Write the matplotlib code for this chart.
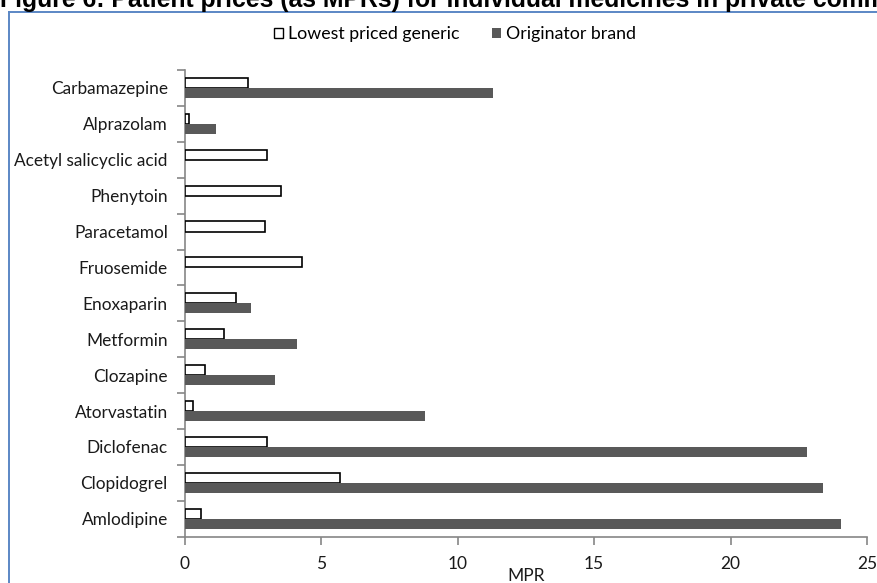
import matplotlib
matplotlib.use("Agg")
import matplotlib.pyplot as plt
from matplotlib.patches import Patch
from matplotlib.lines import Line2D
import numpy as np

plt.rcParams['font.family'] = ['Lato', 'DejaVu Sans']

# medicines, listed bottom to top
medicines = ['Amlodipine', 'Clopidogrel', 'Diclofenac', 'Atorvastatin', 'Clozapine',
             'Metformin', 'Enoxaparin', 'Fruosemide', 'Paracetamol', 'Phenytoin',
             'Acetyl salicyclic acid', 'Alprazolam', 'Carbamazepine']
generic = [0.62, 5.69, 3.01, 0.32, 0.74, 1.45, 1.87, 4.29, 2.96, 3.52, 3.01, 0.16, 2.34]
brand = [24.06, 23.39, 22.81, 8.82, 3.32, 4.11, 2.44, 0, 0, 0, 0, 1.15, 11.29]
xticks = [0, 5, 10, 15, 20, 25]

W, H = 877, 583
fig = plt.figure(figsize=(W / 100, H / 100), dpi=100)
ax = fig.add_axes([184.5 / W, 46.3 / H, 682.5 / W, 466.7 / H])

y = np.arange(len(medicines))
bh = 0.28
grey = '#595959'
ax.barh(y + bh / 2, generic, height=bh, color='white', edgecolor='black', linewidth=1.2, zorder=3)
b_vals = np.array(brand)
mask = b_vals > 0
ax.barh(y[mask] - bh / 2, b_vals[mask], height=bh, color=grey, edgecolor='none', zorder=3)

ax.set_xlim(0, 25)
ax.set_ylim(-0.5, len(medicines) - 0.5)
ax.set_xticks(xticks)
ax.set_xticklabels([str(t) for t in xticks], fontsize=12.5, color='#1a1a1a')
ax.set_yticks(y)
ax.set_yticklabels(medicines, fontsize=12.4, color='#1a1a1a')
ax.set_yticks(np.arange(-0.5, len(medicines)), minor=True)
ax.tick_params(axis='y', which='major', length=0, pad=12)
ax.tick_params(axis='y', which='minor', length=6, color='#868686', width=1.2)
ax.tick_params(axis='x', length=6, color='#868686', width=1.2, pad=8)
ax.set_xlabel('MPR', fontsize=12.5, color='#1a1a1a', labelpad=-3)

for s in ['top', 'right']:
    ax.spines[s].set_visible(False)
for s in ['left', 'bottom']:
    ax.spines[s].set_color('#868686')
    ax.spines[s].set_linewidth(1.2)

handles = [Patch(facecolor='white', edgecolor='black', linewidth=1.0),
           Patch(facecolor=grey, edgecolor='none')]
fig.legend(handles, ['Lowest priced generic', 'Originator brand'], ncol=2,
           loc='center', bbox_to_anchor=(455 / W, 1 - 34 / H), frameon=False,
           fontsize=12.8, handlelength=0.5, handleheight=0.5, handletextpad=0.3,
           columnspacing=1.8)

# outer frame, left and top edges
fig.add_artist(Line2D([8.5 / W, 8.5 / W], [0, 1 - 12 / H], color='#5b87c5', linewidth=1.4,
                      transform=fig.transFigure))
fig.add_artist(Line2D([8.5 / W, 1], [1 - 12 / H, 1 - 12 / H], color='#5b87c5', linewidth=1.4,
                      transform=fig.transFigure))

fig.text(0.0, 1 - 7.5 / H, 'Figure 6: Patient prices (as MPRs) for individual medicines in private community pharmacies',
         family=['Liberation Sans', 'DejaVu Sans'], fontweight='bold', fontsize=17.8, va='baseline', ha='left')

fig.savefig('out.png', dpi=100)
